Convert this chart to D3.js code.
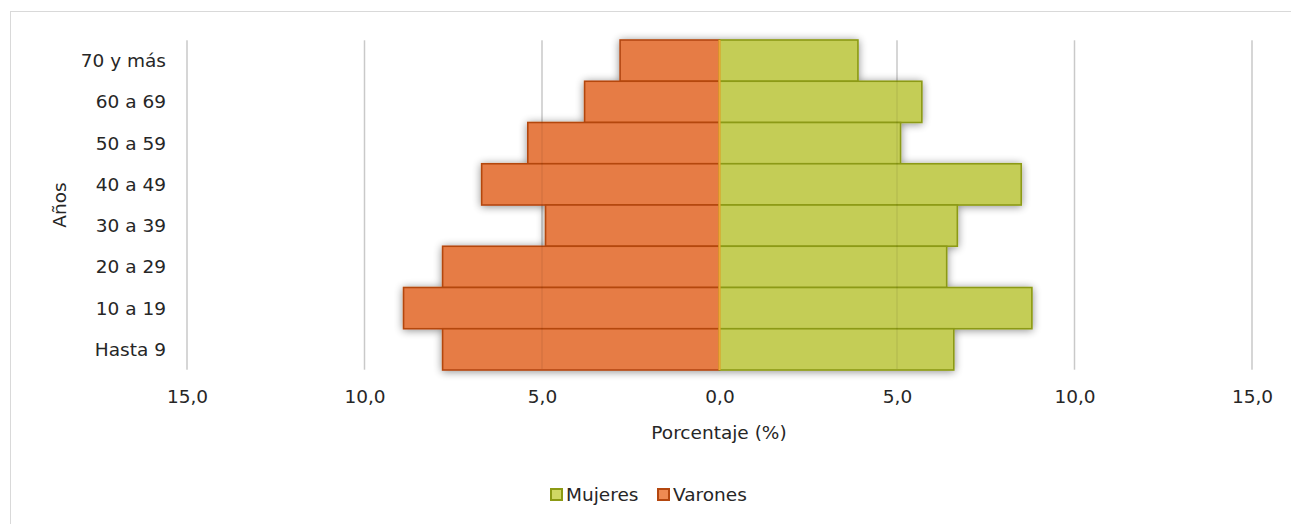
<!DOCTYPE html>
<html><head><meta charset="utf-8">
<script src="https://cdn.jsdelivr.net/npm/d3@7"></script>
<style>
html,body{margin:0;padding:0;background:#fff;}
svg text{font-family:"DejaVu Sans",sans-serif;fill:#262626;}
</style></head>
<body><svg id="c" width="1291" height="524"></svg>
<script>
const categories = ["70 y más","60 a 69","50 a 59","40 a 49","30 a 39","20 a 29","10 a 19","Hasta 9"];
const varones = [2.8, 3.8, 5.4, 6.7, 4.9, 7.8, 8.9, 7.8];
const mujeres = [3.9, 5.7, 5.1, 8.5, 6.7, 6.4, 8.8, 6.6];
const tickValues = [-15,-10,-5,0,5,10,15];
const tickLabels = ["15,0","10,0","5,0","0,0","5,0","10,0","15,0"];
const seriesNames = ["Mujeres","Varones"];

const FONT = "DejaVu Sans", FS = 18.5;
const svg = d3.select("#c");
const plot = {left:187, right:1252, top:40, bottom:370};

svg.append("rect").attr("x",10.5).attr("y",11.5).attr("width",1300).attr("height",600)
  .attr("fill","#fff").attr("stroke","#d9d9d9").attr("stroke-width",1);

const defs = svg.append("defs");
const f = defs.append("filter").attr("id","sh").attr("x","-20%").attr("y","-30%").attr("width","140%").attr("height","160%");
f.append("feGaussianBlur").attr("in","SourceAlpha").attr("stdDeviation",4).attr("result","b");
f.append("feOffset").attr("in","b").attr("dx",0).attr("dy",1).attr("result","o");
f.append("feComponentTransfer").attr("in","o").attr("result","t")
  .append("feFuncA").attr("type","linear").attr("slope",0.45);
const m = f.append("feMerge");
m.append("feMergeNode").attr("in","t");
m.append("feMergeNode").attr("in","SourceGraphic");

const x = d3.scaleLinear().domain([-15,15]).range([plot.left, plot.right]);
const y = d3.scaleBand().domain(categories).range([plot.top, plot.bottom]).padding(0);

svg.append("g").selectAll("line").data(tickValues).join("line")
  .attr("x1",d=>x(d)).attr("x2",d=>x(d)).attr("y1",plot.top).attr("y2",plot.bottom)
  .attr("stroke","#d9d9d9").attr("stroke-width",1.5);

const bars = svg.append("g").attr("filter","url(#sh)");
bars.selectAll("rect.v").data(categories).join("rect").attr("class","v")
  .attr("x",(d,i)=>x(-varones[i])).attr("width",(d,i)=>x(0)-x(-varones[i]))
  .attr("y",d=>y(d)).attr("height",y.bandwidth())
  .attr("fill","#E67C45").attr("stroke","#B4470F").attr("stroke-width",1.6);
bars.selectAll("rect.m").data(categories).join("rect").attr("class","m")
  .attr("x",x(0)).attr("width",(d,i)=>x(mujeres[i])-x(0))
  .attr("y",d=>y(d)).attr("height",y.bandwidth())
  .attr("fill","#C4CD57").attr("stroke","#8C9A14").attr("stroke-width",1.6);

svg.append("g").selectAll("line").data(tickValues.filter(d=>d!==0)).join("line")
  .attr("x1",d=>x(d)).attr("x2",d=>x(d)).attr("y1",plot.top+1).attr("y2",plot.bottom-1)
  .attr("stroke","#000").attr("stroke-opacity",0.07).attr("stroke-width",1.5);

svg.append("line").attr("x1",x(0)).attr("x2",x(0)).attr("y1",plot.top).attr("y2",plot.bottom)
  .attr("stroke","#EFA532").attr("stroke-width",2);

const yAxis = d3.axisLeft(y).tickSize(0).tickPadding(0);
const ya = svg.append("g").attr("transform",`translate(166,0)`).call(yAxis);
ya.select(".domain").remove();
ya.selectAll("text").attr("font-size",FS).attr("font-family",FONT).attr("fill","#262626").attr("dy","0.35em");

const xAxis = d3.axisBottom(x).tickValues(tickValues).tickFormat((d,i)=>tickLabels[i]).tickSize(0).tickPadding(0);
const xa = svg.append("g").attr("transform",`translate(0,397)`).call(xAxis);
xa.select(".domain").remove();
xa.selectAll("text").attr("font-size",FS).attr("font-family",FONT).attr("fill","#262626").attr("dy","0.35em");

svg.append("text").attr("x",719).attr("y",433).attr("dy","0.35em").attr("text-anchor","middle")
  .attr("font-size",FS).text("Porcentaje (%)");
svg.append("text").attr("transform","translate(60,205) rotate(-90)").attr("dy","0.35em").attr("text-anchor","middle")
  .attr("font-size",FS).text("Años");

const leg = [{name:seriesNames[0], fill:"#D0D864", stroke:"#8C9A14", sx:550, tx:566},
             {name:seriesNames[1], fill:"#EE8A52", stroke:"#B4470F", sx:657, tx:673}];
const lg = svg.append("g");
leg.forEach(l=>{
  lg.append("rect").attr("x",l.sx+1).attr("y",489).attr("width",11).attr("height",11)
    .attr("fill",l.fill).attr("stroke",l.stroke).attr("stroke-width",2);
  lg.append("text").attr("x",l.tx).attr("y",495).attr("dy","0.35em").attr("font-size",FS).text(l.name);
});
</script></body></html>
